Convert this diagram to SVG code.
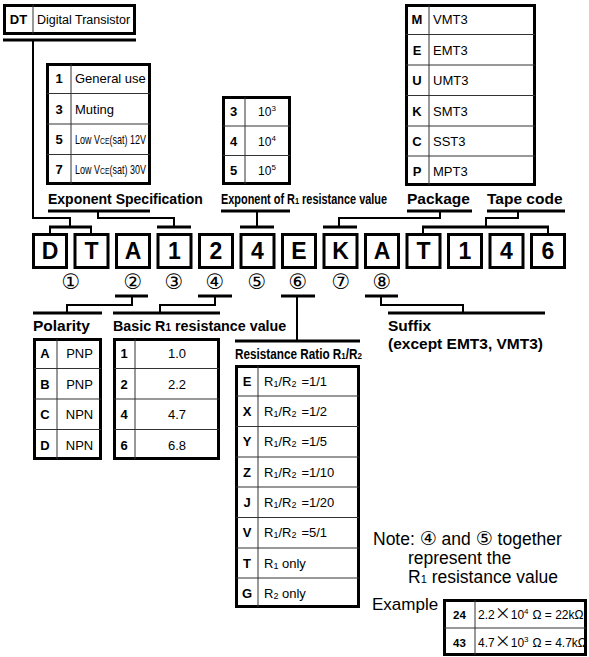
<svg xmlns="http://www.w3.org/2000/svg" width="589" height="657" viewBox="0 0 589 657">
<style>
text{font-family:"Liberation Sans",Arial,sans-serif;fill:#000}
.tb{fill:#fff;stroke:#000;stroke-width:3}
.il{stroke:#333;stroke-width:1;fill:none}
.k{font-weight:bold;font-size:13px;text-anchor:middle}
.v{font-size:13px}
.vc{font-size:13px;text-anchor:middle}
.code{font-weight:bold;font-size:23px;text-anchor:middle}
.box{fill:#fff;stroke:#000;stroke-width:3}
.lbl{font-weight:bold;font-size:15.5px}
.cir{font-family:"DejaVu Sans",sans-serif;font-size:21px;text-anchor:middle}
.bar{stroke:#000;stroke-width:3;fill:none}
.cn{stroke:#000;stroke-width:2;fill:none}
.note{font-size:17.5px}
.ex{font-size:12px}
</style>

<g id="connectors">
  <line class="bar" x1="3" y1="40" x2="136" y2="40"/>
  <polyline class="cn" points="33,40 33,218 70,218 70,227"/>
  <line class="bar" x1="49" y1="227" x2="92" y2="227"/>
  <line class="cn" x1="50" y1="227" x2="50" y2="233"/>
  <line class="cn" x1="91" y1="227" x2="91" y2="233"/>
  <line class="bar" x1="48" y1="211" x2="150" y2="211"/>
  <polyline class="cn" points="98,211 98,218 174,218 174,227"/>
  <line class="bar" x1="157" y1="227" x2="191" y2="227"/>
  <line class="bar" x1="221" y1="211" x2="290" y2="211"/>
  <line class="cn" x1="257" y1="211" x2="257" y2="227"/>
  <line class="bar" x1="240" y1="227" x2="274" y2="227"/>
  <line class="bar" x1="407" y1="211" x2="472" y2="211"/>
  <polyline class="cn" points="440,211 440,218 339,218 339,227"/>
  <line class="bar" x1="323" y1="227" x2="357" y2="227"/>
  <line class="bar" x1="487" y1="211" x2="565" y2="211"/>
  <polyline class="cn" points="518,211 518,218 486,218 486,227"/>
  <line class="bar" x1="422" y1="227" x2="549" y2="227"/>
  <line class="cn" x1="423" y1="227" x2="423" y2="233"/>
  <line class="cn" x1="548" y1="227" x2="548" y2="233"/>
  <line class="bar" x1="115" y1="296" x2="148" y2="296"/>
  <polyline class="cn" points="132,296 132,305 67,305 67,313"/>
  <line class="bar" x1="33" y1="313" x2="102" y2="313"/>
  <line class="bar" x1="198" y1="296" x2="232" y2="296"/>
  <polyline class="cn" points="215,296 215,305 160,305 160,313"/>
  <line class="bar" x1="113" y1="313" x2="220" y2="313"/>
  <line class="bar" x1="281" y1="296" x2="315" y2="296"/>
  <line class="cn" x1="297" y1="296" x2="297" y2="341"/>
  <line class="bar" x1="235" y1="341" x2="360" y2="341"/>
  <line class="bar" x1="365" y1="296" x2="398" y2="296"/>
  <polyline class="cn" points="381,296 381,305 463,305 463,313"/>
  <line class="bar" x1="388" y1="313" x2="545" y2="313"/>
</g>

<g id="dt">
  <rect class="tb" x="4.5" y="5.5" width="130" height="28"/>
  <line class="il" x1="33" y1="5" x2="33" y2="34"/>
  <text class="k" x="18.5" y="24">DT</text>
  <text x="37" y="24" font-size="12.5">Digital Transistor</text>
</g>

<g id="exp-spec-table">
  <rect class="tb" x="47.5" y="64.5" width="102" height="119"/>
  <line class="il" x1="71" y1="64" x2="71" y2="184"/>
  <line class="il" x1="47" y1="93.5" x2="150" y2="93.5"/>
  <line class="il" x1="47" y1="124" x2="150" y2="124"/>
  <line class="il" x1="47" y1="154.5" x2="150" y2="154.5"/>
  <text class="k" x="59" y="83">1</text><text class="v" x="75" y="83">General use</text>
  <text class="k" x="59" y="113.5">3</text><text class="v" x="75" y="113.5">Muting</text>
  <text class="k" x="59" y="144">5</text><text font-size="12.5" transform="translate(75,144) scale(0.72,1)">Low V<tspan font-size="9.5">CE</tspan>(sat) 12V</text>
  <text class="k" x="59" y="174">7</text><text font-size="12.5" transform="translate(75,174) scale(0.72,1)">Low V<tspan font-size="9.5">CE</tspan>(sat) 30V</text>
</g>

<g id="exp-table">
  <rect class="tb" x="223.5" y="97.5" width="66" height="86"/>
  <line class="il" x1="245" y1="97" x2="245" y2="184"/>
  <line class="il" x1="223" y1="126" x2="290" y2="126"/>
  <line class="il" x1="223" y1="155.5" x2="290" y2="155.5"/>
  <text class="k" x="233.5" y="116">3</text><text class="vc" x="267" y="116" style="font-size:12px">10<tspan font-size="8" dy="-5">3</tspan></text>
  <text class="k" x="233.5" y="145.5">4</text><text class="vc" x="267" y="145.5" style="font-size:12px">10<tspan font-size="8" dy="-5">4</tspan></text>
  <text class="k" x="233.5" y="175">5</text><text class="vc" x="267" y="175" style="font-size:12px">10<tspan font-size="8" dy="-5">5</tspan></text>
</g>

<g id="package-table">
  <rect class="tb" x="406.5" y="5.5" width="128" height="179"/>
  <line class="il" x1="429" y1="5" x2="429" y2="185"/>
  <line class="il" x1="406" y1="34.5" x2="535" y2="34.5"/>
  <line class="il" x1="406" y1="65" x2="535" y2="65"/>
  <line class="il" x1="406" y1="95.5" x2="535" y2="95.5"/>
  <line class="il" x1="406" y1="126" x2="535" y2="126"/>
  <line class="il" x1="406" y1="156" x2="535" y2="156"/>
  <text class="k" x="417" y="24">M</text><text class="v" x="433" y="24">VMT3</text>
  <text class="k" x="417" y="54.5">E</text><text class="v" x="433" y="54.5">EMT3</text>
  <text class="k" x="417" y="85">U</text><text class="v" x="433" y="85">UMT3</text>
  <text class="k" x="417" y="115.5">K</text><text class="v" x="433" y="115.5">SMT3</text>
  <text class="k" x="417" y="145.5">C</text><text class="v" x="433" y="145.5">SST3</text>
  <text class="k" x="417" y="175.5">P</text><text class="v" x="433" y="175.5">MPT3</text>
</g>

<g id="labels-top">
  <text class="lbl" x="48" y="204" style="font-size:14px">Exponent Specification</text>
  <text class="lbl" style="font-size:14px" transform="translate(221,204) scale(0.78,1)">Exponent of R<tspan font-size="9.5">1</tspan> resistance value</text>
  <text class="lbl" x="407" y="204">Package</text>
  <text class="lbl" x="487" y="204">Tape code</text>
</g>

<g id="code">
  <rect class="box" x="33.5" y="234.5" width="33" height="33"/><text class="code" x="50" y="259">D</text>
  <rect class="box" x="75" y="234.5" width="33" height="33"/><text class="code" x="91.5" y="259">T</text>
  <rect class="box" x="116.5" y="234.5" width="33" height="33"/><text class="code" x="133" y="259">A</text>
  <rect class="box" x="158" y="234.5" width="33" height="33"/><text class="code" x="174.5" y="259">1</text>
  <rect class="box" x="199.5" y="234.5" width="33" height="33"/><text class="code" x="216" y="259">2</text>
  <rect class="box" x="241" y="234.5" width="33" height="33"/><text class="code" x="257.5" y="259">4</text>
  <rect class="box" x="282.5" y="234.5" width="33" height="33"/><text class="code" x="299" y="259">E</text>
  <rect class="box" x="324" y="234.5" width="33" height="33"/><text class="code" x="340.5" y="259">K</text>
  <rect class="box" x="365.5" y="234.5" width="33" height="33"/><text class="code" x="382" y="259">A</text>
  <rect class="box" x="407" y="234.5" width="33" height="33"/><text class="code" x="423.5" y="259">T</text>
  <rect class="box" x="448.5" y="234.5" width="33" height="33"/><text class="code" x="465" y="259">1</text>
  <rect class="box" x="490" y="234.5" width="33" height="33"/><text class="code" x="506.5" y="259">4</text>
  <rect class="box" x="531.5" y="234.5" width="33" height="33"/><text class="code" x="548" y="259">6</text>
</g>

<g id="positions">
  <text class="cir" x="71" y="289">①</text>
  <text class="cir" x="133" y="289">②</text>
  <text class="cir" x="174" y="289">③</text>
  <text class="cir" x="215" y="289">④</text>
  <text class="cir" x="257" y="289">⑤</text>
  <text class="cir" x="298" y="289">⑥</text>
  <text class="cir" x="341" y="289">⑦</text>
  <text class="cir" x="382" y="289">⑧</text>
</g>

<g id="polarity">
  <text class="lbl" x="33" y="331">Polarity</text>
  <rect class="tb" x="34.5" y="339.5" width="66" height="119"/>
  <line class="il" x1="57" y1="339" x2="57" y2="459"/>
  <line class="il" x1="34" y1="368.5" x2="101" y2="368.5"/>
  <line class="il" x1="34" y1="399" x2="101" y2="399"/>
  <line class="il" x1="34" y1="429.5" x2="101" y2="429.5"/>
  <text class="k" x="45" y="358">A</text><text class="vc" x="79.5" y="358">PNP</text>
  <text class="k" x="45" y="388.5">B</text><text class="vc" x="79.5" y="388.5">PNP</text>
  <text class="k" x="45" y="419">C</text><text class="vc" x="79.5" y="419">NPN</text>
  <text class="k" x="45" y="449.5">D</text><text class="vc" x="79.5" y="449.5">NPN</text>
</g>

<g id="basic-r1">
  <text class="lbl" x="113" y="331" style="font-size:14.3px">Basic R<tspan font-size="10">1</tspan> resistance value</text>
  <rect class="tb" x="114.5" y="339.5" width="104" height="119"/>
  <line class="il" x1="135" y1="339" x2="135" y2="459"/>
  <line class="il" x1="114" y1="368.5" x2="219" y2="368.5"/>
  <line class="il" x1="114" y1="399" x2="219" y2="399"/>
  <line class="il" x1="114" y1="429.5" x2="219" y2="429.5"/>
  <text class="k" x="124" y="358">1</text><text class="vc" x="177" y="358">1.0</text>
  <text class="k" x="124" y="388.5">2</text><text class="vc" x="177" y="388.5">2.2</text>
  <text class="k" x="124" y="419">4</text><text class="vc" x="177" y="419">4.7</text>
  <text class="k" x="124" y="449.5">6</text><text class="vc" x="177" y="449.5">6.8</text>
</g>

<g id="ratio">
  <text class="lbl" style="font-size:14px" transform="translate(235,359) scale(0.84,1)">Resistance Ratio R<tspan font-size="9.5">1</tspan>/R<tspan font-size="9.5">2</tspan></text>
  <rect class="tb" x="236.5" y="366.5" width="122" height="240"/>
  <line class="il" x1="258" y1="366" x2="258" y2="607"/>
  <line class="il" x1="236" y1="396" x2="359" y2="396"/>
  <line class="il" x1="236" y1="426.5" x2="359" y2="426.5"/>
  <line class="il" x1="236" y1="457" x2="359" y2="457"/>
  <line class="il" x1="236" y1="487" x2="359" y2="487"/>
  <line class="il" x1="236" y1="517.5" x2="359" y2="517.5"/>
  <line class="il" x1="236" y1="548" x2="359" y2="548"/>
  <line class="il" x1="236" y1="578" x2="359" y2="578"/>
  <text class="k" x="247" y="385.5">E</text><text class="v" x="264" y="385.5">R<tspan font-size="9" dy="1">1</tspan><tspan dy="-1">/R</tspan><tspan font-size="9" dy="1">2</tspan><tspan dy="-1" dx="5">=1/1</tspan></text>
  <text class="k" x="247" y="416">X</text><text class="v" x="264" y="416">R<tspan font-size="9" dy="1">1</tspan><tspan dy="-1">/R</tspan><tspan font-size="9" dy="1">2</tspan><tspan dy="-1" dx="5">=1/2</tspan></text>
  <text class="k" x="247" y="446">Y</text><text class="v" x="264" y="446">R<tspan font-size="9" dy="1">1</tspan><tspan dy="-1">/R</tspan><tspan font-size="9" dy="1">2</tspan><tspan dy="-1" dx="5">=1/5</tspan></text>
  <text class="k" x="247" y="476.5">Z</text><text class="v" x="264" y="476.5">R<tspan font-size="9" dy="1">1</tspan><tspan dy="-1">/R</tspan><tspan font-size="9" dy="1">2</tspan><tspan dy="-1" dx="5">=1/10</tspan></text>
  <text class="k" x="247" y="507">J</text><text class="v" x="264" y="507">R<tspan font-size="9" dy="1">1</tspan><tspan dy="-1">/R</tspan><tspan font-size="9" dy="1">2</tspan><tspan dy="-1" dx="5">=1/20</tspan></text>
  <text class="k" x="247" y="537">V</text><text class="v" x="264" y="537">R<tspan font-size="9" dy="1">1</tspan><tspan dy="-1">/R</tspan><tspan font-size="9" dy="1">2</tspan><tspan dy="-1" dx="5">=5/1</tspan></text>
  <text class="k" x="247" y="567.5">T</text><text class="v" x="264" y="567.5">R<tspan font-size="9" dy="1">1</tspan><tspan dy="-1"> only</tspan></text>
  <text class="k" x="247" y="597.5">G</text><text class="v" x="264" y="597.5">R<tspan font-size="9" dy="1">2</tspan><tspan dy="-1"> only</tspan></text>
</g>

<g id="suffix">
  <text class="lbl" x="388" y="331">Suffix</text>
  <text class="lbl" x="388" y="349">(except EMT3, VMT3)</text>
</g>

<g id="note">
  <text class="note" x="373" y="545">Note: <tspan font-family="DejaVu Sans" font-size="19">④</tspan> and <tspan font-family="DejaVu Sans" font-size="19">⑤</tspan> together</text>
  <text class="note" x="408" y="564">represent the</text>
  <text class="note" x="408" y="583">R<tspan font-size="11">1</tspan> resistance value</text>
</g>

<g id="example">
  <text class="note" x="372" y="610" style="font-size:17px">Example</text>
  <rect class="tb" x="444.5" y="600.5" width="141" height="54"/>
  <line class="il" x1="475" y1="600" x2="475" y2="655"/>
  <line class="il" x1="444" y1="628" x2="586" y2="628"/>
  <text class="k" x="459.5" y="619" style="font-size:11.5px">24</text>
  <text class="ex" x="478" y="619">2.2<tspan font-size="16" font-family="Noto Sans CJK JP">×</tspan>10<tspan font-size="8" dy="-5">4</tspan><tspan dy="5" dx="4">Ω = 22kΩ</tspan></text>
  <text class="k" x="459.5" y="647" style="font-size:11.5px">43</text>
  <text class="ex" x="478" y="647">4.7<tspan font-size="16" font-family="Noto Sans CJK JP">×</tspan>10<tspan font-size="8" dy="-5">3</tspan><tspan dy="5" dx="4">Ω = 4.7kΩ</tspan></text>
</g>
</svg>
